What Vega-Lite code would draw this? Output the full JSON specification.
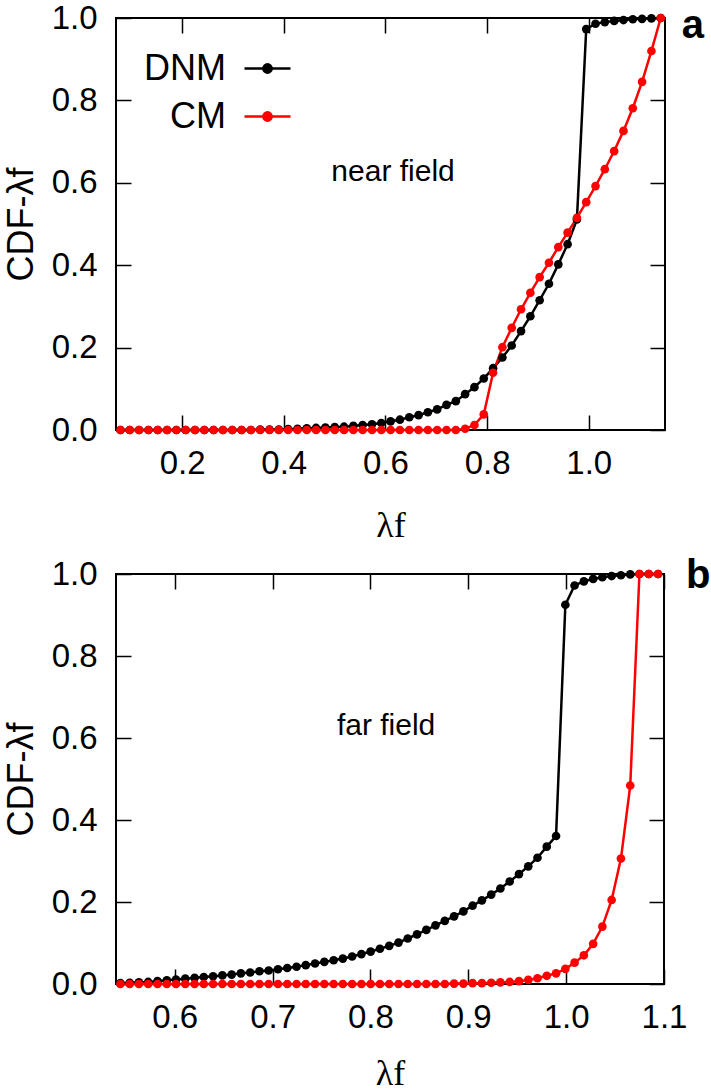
{
"$schema": "https://vega.github.io/schema/vega-lite/v6.json",
"padding": {"left": 2, "top": 1, "right": 0, "bottom": 0},
"background": "white",
"config": {
  "font": "Liberation Sans",
  "view": {"stroke": "black", "strokeWidth": 2},
  "axis": {"grid": false, "domain": false, "tickColor": "black", "tickWidth": 1.5, "tickSize": -15, "labelFontSize": 33, "labelColor": "black", "labelFont": "Liberation Sans", "labelFlush": false, "labelOverlap": false, "labelBound": false, "titleFontSize": 36, "titleFontWeight": "normal", "titleColor": "black", "titleFont": "Liberation Sans"}
},
"datasets": {
  "top": [
{"x":0.0788,"cdf":0,"model":"DNM"},{"x":0.0971,"cdf":0,"model":"DNM"},{"x":0.1154,"cdf":0,"model":"DNM"},{"x":0.1338,"cdf":0,"model":"DNM"},{"x":0.1521,"cdf":0,"model":"DNM"},{"x":0.1704,"cdf":0,"model":"DNM"},{"x":0.1887,"cdf":0,"model":"DNM"},{"x":0.2071,"cdf":0,"model":"DNM"},{"x":0.2254,"cdf":0,"model":"DNM"},{"x":0.2437,"cdf":0,"model":"DNM"},{"x":0.2620,"cdf":0,"model":"DNM"},{"x":0.2804,"cdf":0,"model":"DNM"},{"x":0.2987,"cdf":0,"model":"DNM"},{"x":0.3170,"cdf":0,"model":"DNM"},{"x":0.3353,"cdf":0,"model":"DNM"},{"x":0.3537,"cdf":0.001,"model":"DNM"},{"x":0.3720,"cdf":0.001,"model":"DNM"},{"x":0.3903,"cdf":0.001,"model":"DNM"},{"x":0.4086,"cdf":0.002,"model":"DNM"},{"x":0.4270,"cdf":0.003,"model":"DNM"},{"x":0.4453,"cdf":0.004,"model":"DNM"},{"x":0.4636,"cdf":0.005,"model":"DNM"},{"x":0.4819,"cdf":0.006,"model":"DNM"},{"x":0.5003,"cdf":0.007,"model":"DNM"},{"x":0.5186,"cdf":0.008,"model":"DNM"},{"x":0.5369,"cdf":0.010,"model":"DNM"},{"x":0.5552,"cdf":0.012,"model":"DNM"},{"x":0.5736,"cdf":0.014,"model":"DNM"},{"x":0.5919,"cdf":0.017,"model":"DNM"},{"x":0.6102,"cdf":0.021,"model":"DNM"},{"x":0.6285,"cdf":0.025,"model":"DNM"},{"x":0.6469,"cdf":0.031,"model":"DNM"},{"x":0.6652,"cdf":0.036,"model":"DNM"},{"x":0.6835,"cdf":0.043,"model":"DNM"},{"x":0.7018,"cdf":0.050,"model":"DNM"},{"x":0.7202,"cdf":0.061,"model":"DNM"},{"x":0.7385,"cdf":0.070,"model":"DNM"},{"x":0.7568,"cdf":0.087,"model":"DNM"},{"x":0.7751,"cdf":0.104,"model":"DNM"},{"x":0.7935,"cdf":0.125,"model":"DNM"},{"x":0.8118,"cdf":0.150,"model":"DNM"},{"x":0.8301,"cdf":0.176,"model":"DNM"},{"x":0.8484,"cdf":0.205,"model":"DNM"},{"x":0.8668,"cdf":0.240,"model":"DNM"},{"x":0.8851,"cdf":0.276,"model":"DNM"},{"x":0.9034,"cdf":0.315,"model":"DNM"},{"x":0.9217,"cdf":0.355,"model":"DNM"},{"x":0.9401,"cdf":0.402,"model":"DNM"},{"x":0.9584,"cdf":0.451,"model":"DNM"},{"x":0.9767,"cdf":0.511,"model":"DNM"},{"x":0.9950,"cdf":0.973,"model":"DNM"},{"x":1.0133,"cdf":0.986,"model":"DNM"},{"x":1.0316,"cdf":0.990,"model":"DNM"},{"x":1.0500,"cdf":0.993,"model":"DNM"},{"x":1.0683,"cdf":0.995,"model":"DNM"},{"x":1.0866,"cdf":0.997,"model":"DNM"},{"x":1.1049,"cdf":0.998,"model":"DNM"},{"x":1.1233,"cdf":0.999,"model":"DNM"},{"x":1.1416,"cdf":1.0,"model":"DNM"},
{"x":0.0788,"cdf":0,"model":"CM"},{"x":0.0971,"cdf":0,"model":"CM"},{"x":0.1154,"cdf":0,"model":"CM"},{"x":0.1338,"cdf":0,"model":"CM"},{"x":0.1521,"cdf":0,"model":"CM"},{"x":0.1704,"cdf":0,"model":"CM"},{"x":0.1887,"cdf":0,"model":"CM"},{"x":0.2071,"cdf":0,"model":"CM"},{"x":0.2254,"cdf":0,"model":"CM"},{"x":0.2437,"cdf":0,"model":"CM"},{"x":0.2620,"cdf":0,"model":"CM"},{"x":0.2804,"cdf":0,"model":"CM"},{"x":0.2987,"cdf":0,"model":"CM"},{"x":0.3170,"cdf":0,"model":"CM"},{"x":0.3353,"cdf":0,"model":"CM"},{"x":0.3537,"cdf":0,"model":"CM"},{"x":0.3720,"cdf":0,"model":"CM"},{"x":0.3903,"cdf":0,"model":"CM"},{"x":0.4086,"cdf":0,"model":"CM"},{"x":0.4270,"cdf":0,"model":"CM"},{"x":0.4453,"cdf":0,"model":"CM"},{"x":0.4636,"cdf":0,"model":"CM"},{"x":0.4819,"cdf":0,"model":"CM"},{"x":0.5003,"cdf":0,"model":"CM"},{"x":0.5186,"cdf":0,"model":"CM"},{"x":0.5369,"cdf":0,"model":"CM"},{"x":0.5552,"cdf":0,"model":"CM"},{"x":0.5736,"cdf":0,"model":"CM"},{"x":0.5919,"cdf":0,"model":"CM"},{"x":0.6102,"cdf":0,"model":"CM"},{"x":0.6285,"cdf":0,"model":"CM"},{"x":0.6469,"cdf":0,"model":"CM"},{"x":0.6652,"cdf":0,"model":"CM"},{"x":0.6835,"cdf":0,"model":"CM"},{"x":0.7018,"cdf":0,"model":"CM"},{"x":0.7202,"cdf":0,"model":"CM"},{"x":0.7385,"cdf":0,"model":"CM"},{"x":0.7568,"cdf":0.003,"model":"CM"},{"x":0.7751,"cdf":0.012,"model":"CM"},{"x":0.7935,"cdf":0.038,"model":"CM"},{"x":0.8118,"cdf":0.139,"model":"CM"},{"x":0.8301,"cdf":0.201,"model":"CM"},{"x":0.8484,"cdf":0.248,"model":"CM"},{"x":0.8668,"cdf":0.293,"model":"CM"},{"x":0.8851,"cdf":0.333,"model":"CM"},{"x":0.9034,"cdf":0.371,"model":"CM"},{"x":0.9217,"cdf":0.406,"model":"CM"},{"x":0.9401,"cdf":0.444,"model":"CM"},{"x":0.9584,"cdf":0.479,"model":"CM"},{"x":0.9767,"cdf":0.515,"model":"CM"},{"x":0.9950,"cdf":0.553,"model":"CM"},{"x":1.0133,"cdf":0.592,"model":"CM"},{"x":1.0316,"cdf":0.633,"model":"CM"},{"x":1.0500,"cdf":0.677,"model":"CM"},{"x":1.0683,"cdf":0.726,"model":"CM"},{"x":1.0866,"cdf":0.781,"model":"CM"},{"x":1.1049,"cdf":0.845,"model":"CM"},{"x":1.1233,"cdf":0.920,"model":"CM"},{"x":1.1416,"cdf":1.0,"model":"CM"}
  ],
  "bottom": [
{"x":0.5445,"cdf":0.002,"model":"DNM"},{"x":0.5540,"cdf":0.003,"model":"DNM"},{"x":0.5634,"cdf":0.004,"model":"DNM"},{"x":0.5729,"cdf":0.005,"model":"DNM"},{"x":0.5824,"cdf":0.007,"model":"DNM"},{"x":0.5919,"cdf":0.009,"model":"DNM"},{"x":0.6013,"cdf":0.011,"model":"DNM"},{"x":0.6108,"cdf":0.013,"model":"DNM"},{"x":0.6203,"cdf":0.015,"model":"DNM"},{"x":0.6297,"cdf":0.017,"model":"DNM"},{"x":0.6392,"cdf":0.019,"model":"DNM"},{"x":0.6487,"cdf":0.021,"model":"DNM"},{"x":0.6582,"cdf":0.023,"model":"DNM"},{"x":0.6676,"cdf":0.026,"model":"DNM"},{"x":0.6771,"cdf":0.028,"model":"DNM"},{"x":0.6866,"cdf":0.031,"model":"DNM"},{"x":0.6960,"cdf":0.033,"model":"DNM"},{"x":0.7055,"cdf":0.036,"model":"DNM"},{"x":0.7150,"cdf":0.039,"model":"DNM"},{"x":0.7245,"cdf":0.042,"model":"DNM"},{"x":0.7339,"cdf":0.046,"model":"DNM"},{"x":0.7434,"cdf":0.050,"model":"DNM"},{"x":0.7529,"cdf":0.054,"model":"DNM"},{"x":0.7624,"cdf":0.058,"model":"DNM"},{"x":0.7718,"cdf":0.062,"model":"DNM"},{"x":0.7813,"cdf":0.067,"model":"DNM"},{"x":0.7908,"cdf":0.073,"model":"DNM"},{"x":0.8002,"cdf":0.079,"model":"DNM"},{"x":0.8097,"cdf":0.086,"model":"DNM"},{"x":0.8192,"cdf":0.093,"model":"DNM"},{"x":0.8287,"cdf":0.101,"model":"DNM"},{"x":0.8381,"cdf":0.111,"model":"DNM"},{"x":0.8476,"cdf":0.121,"model":"DNM"},{"x":0.8571,"cdf":0.132,"model":"DNM"},{"x":0.8665,"cdf":0.143,"model":"DNM"},{"x":0.8760,"cdf":0.154,"model":"DNM"},{"x":0.8855,"cdf":0.165,"model":"DNM"},{"x":0.8950,"cdf":0.177,"model":"DNM"},{"x":0.9044,"cdf":0.191,"model":"DNM"},{"x":0.9139,"cdf":0.204,"model":"DNM"},{"x":0.9234,"cdf":0.218,"model":"DNM"},{"x":0.9328,"cdf":0.233,"model":"DNM"},{"x":0.9423,"cdf":0.250,"model":"DNM"},{"x":0.9518,"cdf":0.268,"model":"DNM"},{"x":0.9613,"cdf":0.287,"model":"DNM"},{"x":0.9707,"cdf":0.308,"model":"DNM"},{"x":0.9802,"cdf":0.335,"model":"DNM"},{"x":0.9897,"cdf":0.361,"model":"DNM"},{"x":0.9992,"cdf":0.925,"model":"DNM"},{"x":1.0086,"cdf":0.972,"model":"DNM"},{"x":1.0181,"cdf":0.982,"model":"DNM"},{"x":1.0276,"cdf":0.988,"model":"DNM"},{"x":1.0370,"cdf":0.992,"model":"DNM"},{"x":1.0465,"cdf":0.995,"model":"DNM"},{"x":1.0560,"cdf":0.997,"model":"DNM"},{"x":1.0655,"cdf":0.999,"model":"DNM"},{"x":1.0749,"cdf":1.0,"model":"DNM"},{"x":1.0844,"cdf":1.0,"model":"DNM"},{"x":1.0939,"cdf":1.0,"model":"DNM"},
{"x":0.5445,"cdf":0,"model":"CM"},{"x":0.5540,"cdf":0,"model":"CM"},{"x":0.5634,"cdf":0,"model":"CM"},{"x":0.5729,"cdf":0,"model":"CM"},{"x":0.5824,"cdf":0,"model":"CM"},{"x":0.5919,"cdf":0,"model":"CM"},{"x":0.6013,"cdf":0,"model":"CM"},{"x":0.6108,"cdf":0,"model":"CM"},{"x":0.6203,"cdf":0,"model":"CM"},{"x":0.6297,"cdf":0,"model":"CM"},{"x":0.6392,"cdf":0,"model":"CM"},{"x":0.6487,"cdf":0,"model":"CM"},{"x":0.6582,"cdf":0,"model":"CM"},{"x":0.6676,"cdf":0,"model":"CM"},{"x":0.6771,"cdf":0,"model":"CM"},{"x":0.6866,"cdf":0,"model":"CM"},{"x":0.6960,"cdf":0,"model":"CM"},{"x":0.7055,"cdf":0,"model":"CM"},{"x":0.7150,"cdf":0,"model":"CM"},{"x":0.7245,"cdf":0,"model":"CM"},{"x":0.7339,"cdf":0,"model":"CM"},{"x":0.7434,"cdf":0,"model":"CM"},{"x":0.7529,"cdf":0,"model":"CM"},{"x":0.7624,"cdf":0,"model":"CM"},{"x":0.7718,"cdf":0,"model":"CM"},{"x":0.7813,"cdf":0,"model":"CM"},{"x":0.7908,"cdf":0,"model":"CM"},{"x":0.8002,"cdf":0,"model":"CM"},{"x":0.8097,"cdf":0,"model":"CM"},{"x":0.8192,"cdf":0,"model":"CM"},{"x":0.8287,"cdf":0,"model":"CM"},{"x":0.8381,"cdf":0,"model":"CM"},{"x":0.8476,"cdf":0,"model":"CM"},{"x":0.8571,"cdf":0,"model":"CM"},{"x":0.8665,"cdf":0,"model":"CM"},{"x":0.8760,"cdf":0,"model":"CM"},{"x":0.8855,"cdf":0.001,"model":"CM"},{"x":0.8950,"cdf":0.001,"model":"CM"},{"x":0.9044,"cdf":0.002,"model":"CM"},{"x":0.9139,"cdf":0.002,"model":"CM"},{"x":0.9234,"cdf":0.003,"model":"CM"},{"x":0.9328,"cdf":0.004,"model":"CM"},{"x":0.9423,"cdf":0.005,"model":"CM"},{"x":0.9518,"cdf":0.007,"model":"CM"},{"x":0.9613,"cdf":0.010,"model":"CM"},{"x":0.9707,"cdf":0.014,"model":"CM"},{"x":0.9802,"cdf":0.020,"model":"CM"},{"x":0.9897,"cdf":0.026,"model":"CM"},{"x":0.9992,"cdf":0.037,"model":"CM"},{"x":1.0086,"cdf":0.052,"model":"CM"},{"x":1.0181,"cdf":0.070,"model":"CM"},{"x":1.0276,"cdf":0.098,"model":"CM"},{"x":1.0370,"cdf":0.140,"model":"CM"},{"x":1.0465,"cdf":0.205,"model":"CM"},{"x":1.0560,"cdf":0.306,"model":"CM"},{"x":1.0655,"cdf":0.484,"model":"CM"},{"x":1.0749,"cdf":1.0,"model":"CM"},{"x":1.0844,"cdf":1.0,"model":"CM"},{"x":1.0939,"cdf":1.0,"model":"CM"}
  ]
},
"resolve": {"scale": {"color": "independent"}},
"spacing": 10,
"vconcat": [
  {
    "width": 549, "height": 412,
    "data": {"name": "top"},
    "layer": [
      {"mark": {"type": "line", "strokeWidth": 2.5},
       "encoding": {
         "x": {"field": "x", "type": "quantitative", "scale": {"domain": [0.07, 1.15], "nice": false, "zero": false}, "axis": {"values": [0.2, 0.4, 0.6, 0.8, 1.0], "format": ".1f", "title": "λf", "titleFont": "Liberation Serif", "titleFontSize": 36, "labelPadding": 32, "titlePadding": 28}},
         "y": {"field": "cdf", "type": "quantitative", "scale": {"domain": [0, 1], "nice": false}, "axis": {"values": [0, 0.2, 0.4, 0.6, 0.8, 1.0], "format": ".1f", "title": "CDF-λf", "labelPadding": 34, "titlePadding": 11}},
         "color": {"field": "model", "type": "nominal", "scale": {"domain": ["DNM", "CM"], "range": ["black", "red"]},
           "legend": {"orient": "none", "legendX": 127, "legendY": 26, "title": null, "labelFontSize": 36, "labelFont": "Liberation Sans", "labelColor": "black", "labelAlign": "right", "labelOffset": -66, "symbolType": "M-1,0L1,0M0.18,0A0.18,0.18,0,1,1,-0.18,0A0.18,0.18,0,1,1,0.18,0Z", "symbolSize": 2116, "symbolStrokeWidth": 2.5, "symbolOpacity": 1, "rowPadding": 5, "padding": 0,
             "encode": {"symbols": {"update": {"fill": {"scale": "color", "field": "value"}, "stroke": {"scale": "color", "field": "value"}}}}}}
       }},
      {"mark": {"type": "point", "filled": true, "size": 75, "opacity": 1},
       "encoding": {
         "x": {"field": "x", "type": "quantitative", "scale": {"domain": [0.07, 1.15], "nice": false, "zero": false}, "axis": {"orient": "top", "values": [0.2, 0.4, 0.6, 0.8, 1.0], "labels": false, "title": null}},
         "y": {"field": "cdf", "type": "quantitative", "scale": {"domain": [0, 1], "nice": false}, "axis": {"orient": "right", "values": [0, 0.2, 0.4, 0.6, 0.8, 1.0], "labels": false, "title": null}},
         "color": {"field": "model", "type": "nominal", "scale": {"domain": ["DNM", "CM"], "range": ["black", "red"]}}
       }},
      {"data": {"values": [{}]},
       "mark": {"type": "text", "fontSize": 30, "align": "center", "baseline": "alphabetic", "color": "black", "font": "Liberation Sans"},
       "encoding": {
         "x": {"datum": 0.615, "type": "quantitative", "axis": null},
         "y": {"datum": 0.604, "type": "quantitative", "axis": null},
         "text": {"value": "near field"}
       }},
      {"data": {"values": [{}]},
       "mark": {"type": "text", "fontSize": 40, "fontWeight": "bold", "align": "left", "baseline": "alphabetic", "color": "black", "font": "Liberation Sans"},
       "encoding": {
         "x": {"datum": 1.183, "type": "quantitative", "axis": null},
         "y": {"datum": 0.951, "type": "quantitative", "axis": null},
         "text": {"value": "a"}
       }}
    ],
    "resolve": {"axis": {"x": "independent", "y": "independent"}}
  },
  {
    "width": 548, "height": 410,
    "data": {"name": "bottom"},
    "layer": [
      {"mark": {"type": "line", "strokeWidth": 2.5},
       "encoding": {
         "x": {"field": "x", "type": "quantitative", "scale": {"domain": [0.54, 1.1], "nice": false, "zero": false}, "axis": {"values": [0.6, 0.7, 0.8, 0.9, 1.0, 1.1], "format": ".1f", "title": "λf", "titleFont": "Liberation Serif", "titleFontSize": 36, "labelPadding": 32, "titlePadding": 22}},
         "y": {"field": "cdf", "type": "quantitative", "scale": {"domain": [0, 1], "nice": false}, "axis": {"values": [0, 0.2, 0.4, 0.6, 0.8, 1.0], "format": ".1f", "title": "CDF-λf", "labelPadding": 34, "titlePadding": 11}},
         "color": {"field": "model", "type": "nominal", "scale": {"domain": ["DNM", "CM"], "range": ["black", "red"]}, "legend": null}
       }},
      {"mark": {"type": "point", "filled": true, "size": 75, "opacity": 1},
       "encoding": {
         "x": {"field": "x", "type": "quantitative", "scale": {"domain": [0.54, 1.1], "nice": false, "zero": false}, "axis": {"orient": "top", "values": [0.6, 0.7, 0.8, 0.9, 1.0, 1.1], "labels": false, "title": null}},
         "y": {"field": "cdf", "type": "quantitative", "scale": {"domain": [0, 1], "nice": false}, "axis": {"orient": "right", "values": [0, 0.2, 0.4, 0.6, 0.8, 1.0], "labels": false, "title": null}},
         "color": {"field": "model", "type": "nominal", "scale": {"domain": ["DNM", "CM"], "range": ["black", "red"]}, "legend": null}
       }},
      {"data": {"values": [{}]},
       "mark": {"type": "text", "fontSize": 30, "align": "center", "baseline": "alphabetic", "color": "black", "font": "Liberation Sans"},
       "encoding": {
         "x": {"datum": 0.816, "type": "quantitative", "axis": null},
         "y": {"datum": 0.607, "type": "quantitative", "axis": null},
         "text": {"value": "far field"}
       }},
      {"data": {"values": [{}]},
       "mark": {"type": "text", "fontSize": 40, "fontWeight": "bold", "align": "left", "baseline": "alphabetic", "color": "black", "font": "Liberation Sans"},
       "encoding": {
         "x": {"datum": 1.1225, "type": "quantitative", "axis": null},
         "y": {"datum": 0.966, "type": "quantitative", "axis": null},
         "text": {"value": "b"}
       }}
    ],
    "resolve": {"axis": {"x": "independent", "y": "independent"}}
  }
]
}
